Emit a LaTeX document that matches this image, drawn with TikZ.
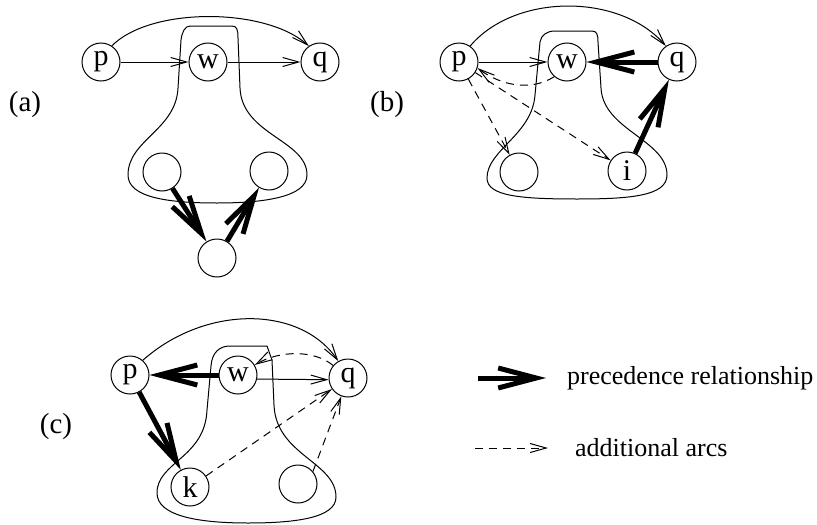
\documentclass[tikz,border=0pt]{standalone}
\usepackage{fontspec}
\setmainfont{Liberation Serif}
\usetikzlibrary{arrows.meta}
\begin{document}
\begin{tikzpicture}[x=1pt,y=-1pt,
  every node/.style={font=\fontsize{26}{30}\selectfont},
  vtx/.style={circle,draw,line width=1pt,minimum size=38pt,inner sep=0pt,font=\fontsize{30}{34}\selectfont},
  lbl/.style={font=\fontsize{29}{34}\selectfont},
  arcln/.style={line width=1pt,-{Straight Barb[length=16pt,width=9pt]}},
  dsh/.style={arcln,dash pattern=on 8pt off 6pt},
  prec/.style={line width=5pt,-{Straight Barb[length=38pt,width=20pt]}},
  blob/.style={line width=1pt}
]
\useasboundingbox (0,0) rectangle (817,525);

% ---------- (a) ----------
\node[lbl] at (25,105) (la) {(a)};
\draw[blob] (190,26) -- (232,26) .. controls (237,26) and (238,30) .. (238,38) -- (240,88)
  .. controls (242,135) and (307,140) .. (307,175)
  .. controls (307,198) and (260,203) .. (217,203)
  .. controls (170,203) and (128,198) .. (128,175)
  .. controls (128,140) and (176,130) .. (178,88) -- (181,40)
  .. controls (182,32) and (185,26) .. (190,26) -- cycle;
\node[vtx] (pa) at (101,62) {p};
\node[vtx] (wa) at (208,62) {w};
\node[vtx] (qa) at (320,62) {q};
\node[vtx] (a1) at (162,172) {};
\node[vtx] (a2) at (269,171) {};
\node[vtx] (a3) at (217,258) {};
\draw[arcln] (pa) -- (wa);
\draw[arcln] (wa) -- (qa);
\draw[arcln] (pa.56) .. controls (150,7) and (265,7) .. (qa.125);
\draw[prec] (a1) -- (a3);
\draw[prec] (a3) -- (a2);

% ---------- (b) ----------
\node[lbl] at (387,105) (lb) {(b)};
\draw[blob] (555,31) -- (592,31) .. controls (597,31) and (598,35) .. (598,42) -- (601,88)
  .. controls (603,130) and (667,140) .. (667,175)
  .. controls (667,196) and (630,199) .. (577,199)
  .. controls (520,199) and (487,196) .. (487,178)
  .. controls (487,150) and (532,135) .. (535,95) -- (540,42)
  .. controls (541,35) and (547,31) .. (555,31) -- cycle;
\node[vtx] (pb) at (459,62) {p};
\node[vtx] (wb) at (567,62) {w};
\node[vtx] (qb) at (677,62) {q};
\node[vtx] (bl) at (519,172) {};
\node[vtx] (ib) at (627,171) {i};
\draw[arcln] (pb) -- (wb);
\draw[arcln] (pb.55) .. controls (515,-7) and (620,-7) .. (qb.125);
\draw[dsh] (wb.229) .. controls (530,92) and (500,85) .. (pb.-18);
\draw[dsh] (pb) -- (ib);
\draw[dsh] (pb) -- (bl);
\draw[prec] (qb) -- (wb);
\draw[prec] (ib) -- (qb);

% ---------- (c) ----------
\node[lbl] at (56,427) (lc) {(c)};
\draw[blob] (230,346) -- (267,346) -- (272,360) -- (274,405)
  .. controls (276,455) and (336,462) .. (336,497)
  .. controls (336,518) and (295,523) .. (248,523)
  .. controls (195,523) and (157,515) .. (157,493)
  .. controls (157,462) and (205,458) .. (207,410) -- (211,366)
  .. controls (212,352) and (220,346) .. (230,346) -- cycle;
\node[vtx] (pc) at (130,375) {p};
\node[vtx] (wc) at (238,375) {w};
\node[vtx] (qc) at (348,378) {q};
\node[vtx] (kc) at (190,487) {k};
\node[vtx] (rc) at (298,484) {};
\draw[arcln] (pc.49) .. controls (205,305) and (300,305) .. (qc.120);
\draw[arcln] (wc.-12) -- (qc.185);
\draw[dsh] (qc.140) .. controls (315,350) and (280,350) .. (wc.31);
\draw[dsh] (kc) -- (qc);
\draw[dsh] (rc.40) -- (qc.250);
\draw[prec] (wc) -- (pc);
\draw[prec] (pc) -- (kc);

% ---------- legend ----------
\coordinate (l1s) at (478,378);
\coordinate (l1e) at (546,378);
\coordinate (l2s) at (475,448);
\coordinate (l2e) at (548,448);
\draw[prec] (l1s) -- (l1e);
\draw[dsh] (l2s) -- (l2e);
\node[anchor=west,inner sep=0pt] (t1) at (567,378) {precedence relationship};
\node[anchor=west,inner sep=0pt] (t2) at (575,448) {additional arcs};
\end{tikzpicture}
\end{document}
